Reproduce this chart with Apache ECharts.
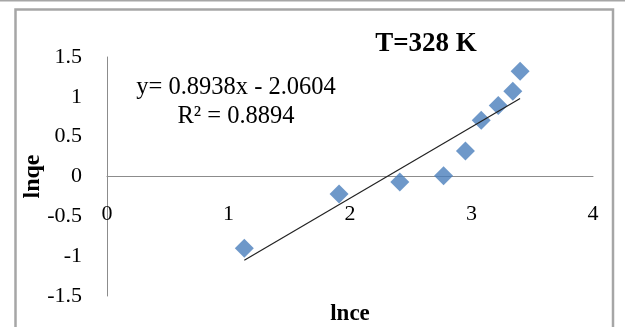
<!DOCTYPE html>
<html>
<head>
<meta charset="utf-8">
<script src="https://cdn.jsdelivr.net/npm/echarts@6/dist/echarts.min.js"></script>
<style>
  html, body { margin: 0; padding: 0; background: #fff; }
  #chart { width: 625px; height: 327px; }
</style>
</head>
<body>
<div id="chart"></div>
<script>
// Freundlich isotherm, linearised: ln qe against ln Ce at 328 K
const lnCe = [1.13, 1.91, 2.41, 2.77, 2.95, 3.08, 3.22, 3.34, 3.40];
const lnQe = [-0.90, -0.22, -0.07, 0.01, 0.32, 0.705, 0.89, 1.07, 1.32];

// Least-squares fit as reported on the chart
const fitSlope = [0.8938];
const fitIntercept = [-2.0604];
const fitR2 = [0.8894];

const xTicks = [0, 1, 2, 3, 4];
const yTicks = [-1.5, -1, -0.5, 0, 0.5, 1, 1.5];

const titleText = 'T=328 K';
const xName = 'lnce';
const yName = 'lnqe';

const points = lnCe.map((x, i) => [x, lnQe[i]]);
const xLo = Math.min(...lnCe), xHi = Math.max(...lnCe);
const a = fitSlope[0], b = fitIntercept[0];
const fitLine = [[xLo, a * xLo + b], [xHi, a * xHi + b]];

const eqText = 'y= ' + a.toFixed(4) + 'x - ' + Math.abs(b).toFixed(4);
const r2Text = 'R\u00B2 = ' + fitR2[0].toFixed(4);

const serif = '"Liberation Serif", "Times New Roman", serif';
const axisGrey = '#8c8c8c';

// plot area in pixels
const gridTop = 57, gridBottom = 31, gridLeft = 107, gridRight = 32;
const plotH = 327 - gridTop - gridBottom;
const yMin = yTicks[0], yMax = yTicks[yTicks.length - 1];
// the horizontal axis crosses the vertical one at y = 0
const xAxisShift = -plotH * (0 - yMin) / (yMax - yMin);

const chart = echarts.init(document.getElementById('chart'), null, { renderer: 'canvas' });
chart.setOption({
  animation: false,
  backgroundColor: '#fff',
  title: {
    text: titleText,
    left: 421, top: 26, textAlign: 'center',
    textStyle: { fontFamily: serif, fontSize: 27, fontWeight: 'bold', color: '#000' }
  },
  grid: { left: gridLeft, right: gridRight, top: gridTop, bottom: gridBottom, containLabel: false, outerBoundsMode: 'none' },
  xAxis: {
    type: 'value',
    position: 'bottom',
    offset: xAxisShift,
    min: xTicks[0], max: xTicks[xTicks.length - 1], interval: 1,
    axisLine: { onZero: false, lineStyle: { color: axisGrey, width: 1 } },
    axisTick: { show: false },
    splitLine: { show: false },
    axisLabel: { margin: 27, fontFamily: serif, fontSize: 22, color: '#000' },
    name: xName, nameLocation: 'middle', nameGap: 126, nameMoveOverlap: false,
    nameTextStyle: { fontFamily: serif, fontSize: 23, fontWeight: 'bold', color: '#000' }
  },
  yAxis: {
    type: 'value',
    min: yMin, max: yMax, interval: 0.5,
    axisLine: { show: true, onZero: false, lineStyle: { color: axisGrey, width: 1 } },
    axisTick: { show: false },
    splitLine: { show: false },
    axisLabel: { margin: 25, fontFamily: serif, fontSize: 22, color: '#000' },
    name: yName, nameLocation: 'middle', nameGap: 62, nameRotate: 90, nameMoveOverlap: false,
    nameTextStyle: { fontFamily: serif, fontSize: 24, fontWeight: 'bold', color: '#000' }
  },
  series: [
    {
      type: 'scatter',
      data: points,
      symbol: 'diamond',
      symbolSize: 19,
      itemStyle: { color: '#4a7ebb' },
      z: 2
    },
    {
      type: 'line',
      data: fitLine,
      showSymbol: false,
      symbol: 'none',
      lineStyle: { color: '#222', width: 1.2 },
      z: 3,
      silent: true
    }
  ],
  graphic: [
    { type: 'line', shape: { x1: 0, y1: 0.5, x2: 625, y2: 0.5 },
      style: { stroke: '#a6a6a6', lineWidth: 2 }, silent: true },
    { type: 'rect', shape: { x: 15.5, y: 9.5, width: 597.5, height: 340 },
      style: { fill: null, stroke: '#a6a6a6', lineWidth: 2.5 }, silent: true },
    { type: 'text', x: 236, y: 75,
      style: { text: eqText, fontFamily: serif, fontSize: 24.5, fill: '#000', align: 'center' } },
    { type: 'text', x: 236, y: 104,
      style: { text: r2Text, fontFamily: serif, fontSize: 24.5, fill: '#000', align: 'center' } }
  ]
});
</script>
</body>
</html>
